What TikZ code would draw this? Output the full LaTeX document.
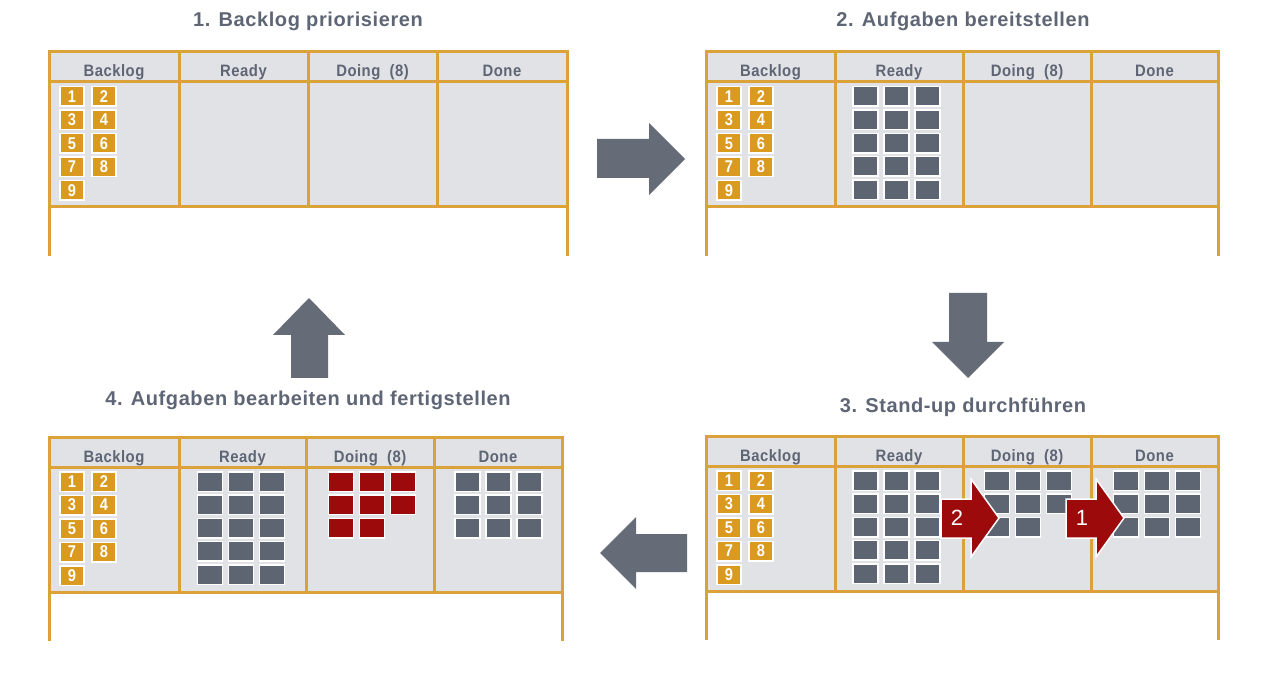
\documentclass[tikz,border=0pt]{standalone}
\usepackage{fontspec}
\setmainfont{Liberation Sans}
\newfontfamily\cond[FakeStretch=0.86]{Liberation Sans}
\newfontfamily\condt[LetterSpace=3]{Liberation Sans}
\newfontfamily\condh[FakeStretch=0.9,LetterSpace=3]{Liberation Sans}
\definecolor{goldc}{HTML}{DCA23A}
\definecolor{boardc}{HTML}{E1E2E6}
\definecolor{txtc}{HTML}{5E6574}
\definecolor{cardg}{HTML}{5E6572}
\definecolor{cardo}{HTML}{DA991F}
\definecolor{redc}{HTML}{9C0A0C}
\definecolor{arrg}{HTML}{656C78}
\newcommand\kgrid[5]{%
  \foreach \k in {1,...,#4}{%
    \pgfmathtruncatemacro\cc{mod(\k-1,3)}%
    \pgfmathtruncatemacro\rr{floor((\k-1)/3)}%
    \node[#5] (#1\k) at ({#2+(\cc-1)*31},{#3+44.5+\rr*23.3}) {};
  }}
\begin{document}
\begin{tikzpicture}[x=1pt,y=-1pt,
  goldline/.style={draw=goldc,line width=3pt},
  card/.style={minimum width=25pt,minimum height=19.5pt,inner sep=0pt,draw=white,line width=1.5pt},
  gcard/.style={card,fill=cardg},
  rcard/.style={card,fill=redc},
  ocard/.style={card,minimum width=24pt,fill=cardo,text=white,font=\cond\bfseries\fontsize{17}{17}\selectfont},
  head/.style={text=txtc,anchor=base,inner sep=0pt,font=\condh\bfseries\fontsize{16.5}{17}\selectfont},
  title/.style={text=txtc,anchor=base,inner sep=0pt,font=\condt\bfseries\fontsize{20}{21}\selectfont},
  blockarrow/.style={fill=arrg},
  redarrow/.style={fill=redc,draw=white,line width=1.5pt,line join=miter},
  arrnum/.style={text=white,inner sep=0pt,font=\fontsize{22}{22}\selectfont}]
\useasboundingbox (0,0) rectangle (1274,700);
\fill[white] (0,0) rectangle (1274,700);
% boards
\foreach \n/\l/\r/\t/\da/\db/\dc in {1/49/567/52/179/308/437, 2/706/1218/52/835/963/1091, 3/706/1218/436/835/963/1091, 4/49/562/437/179/306/434}{
  \fill[boardc] (\l,\t) rectangle (\r,{\t+155});
  \draw[goldline] (\l,{\t+204}) -- (\l,\t) -- (\r,\t) -- (\r,{\t+204});
  \draw[goldline] (\l,{\t+30}) -- (\r,{\t+30});
  \draw[goldline] (\l,{\t+155}) -- (\r,{\t+155});
  \foreach \d in {\da,\db,\dc}{\draw[goldline] (\d,\t) -- (\d,{\t+155});}
  \node[head] (h\n a) at ({(\l+\da)/2},{\t+25}) {Backlog};
  \node[head] (h\n b) at ({(\da+\db)/2},{\t+25}) {Ready};
  \node[head] (h\n c) at ({(\db+\dc)/2},{\t+25}) {Doing\ \ (8)};
  \node[head] (h\n d) at ({(\dc+\r)/2},{\t+25}) {Done};
  \foreach \i in {1,...,9}{
    \pgfmathtruncatemacro\cc{mod(\i-1,2)}
    \pgfmathtruncatemacro\rr{floor((\i-1)/2)}
    \node[ocard] (o\n\i) at ({\l+23+\cc*32},{\t+44.5+\rr*23.5}) {\i};
  }
}
% cards
\kgrid{rb2-}{896.5}{52}{15}{gcard}
\kgrid{rb3-}{896.5}{436}{15}{gcard}
\kgrid{db3-}{1028}{436}{8}{gcard}
\kgrid{eb3-}{1157}{436}{9}{gcard}
\kgrid{rb4-}{241}{437}{15}{gcard}
\kgrid{db4-}{372}{437}{8}{rcard}
\kgrid{eb4-}{498.5}{437}{9}{gcard}
% red arrows in board 3
\draw[redarrow] (941,499) -- (971,499) -- (971,479) -- (999,518) -- (971,557) -- (971,538) -- (941,538) -- cycle;
\node[arrnum] (n2) at (957,518) {2};
\draw[redarrow] (1066,499) -- (1096,499) -- (1096,479) -- (1124,518) -- (1096,557) -- (1096,538) -- (1066,538) -- cycle;
\node[arrnum] (n1) at (1082,518) {1};
% gray block arrows
\fill[blockarrow] (597,139) -- (649,139) -- (649,123) -- (685,159) -- (649,195) -- (649,178) -- (597,178) -- cycle;
\fill[blockarrow] (949,293) -- (987,293) -- (987,342) -- (1004,342) -- (968,378) -- (932,342) -- (949,342) -- cycle;
\fill[blockarrow] (687,534) -- (636,534) -- (636,517) -- (600,553) -- (636,589) -- (636,572) -- (687,572) -- cycle;
\fill[blockarrow] (291,378) -- (291,335) -- (273,335) -- (309,298) -- (345,335) -- (328,335) -- (328,378) -- cycle;
% titles
\node[title] (t1) at (308,27) {1. Backlog priorisieren};
\node[title] (t2) at (963,27) {2. Aufgaben bereitstellen};
\node[title] (t3) at (963,412) {3. Stand-up durchführen};
\node[title] (t4) at (308,406) {4. Aufgaben bearbeiten und fertigstellen};
\end{tikzpicture}
\end{document}
